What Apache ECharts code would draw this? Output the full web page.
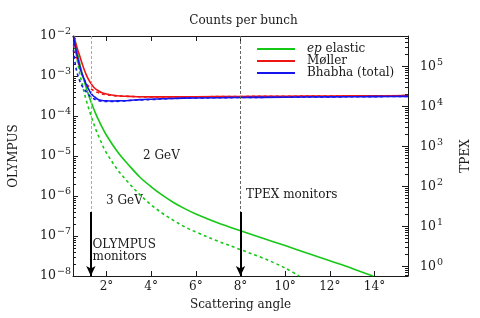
<!DOCTYPE html>
<html>
<head>
<meta charset="utf-8">
<script src="https://cdn.jsdelivr.net/npm/echarts@6/dist/echarts.min.js"></script>
<style>
  html, body { margin: 0; padding: 0; background: #fff; }
  #chart { width: 480px; height: 318px; }
</style>
</head>
<body>
<div id="chart"></div>
<script>
// scattering angle (deg) grid shared by the Moller / Bhabha curves
const angles = [0.52, 0.6, 0.7, 0.8, 0.9, 1.0, 1.1, 1.2, 1.3, 1.4, 1.5, 1.6, 1.8, 2.0, 2.3, 2.6, 3.0, 3.5, 4.0, 5.0, 6.0, 8.0, 10.0, 12.0, 14.0, 15.5]
const moller2 = [1.0e-2, 7.2e-3, 4.7e-3, 3.2e-3, 2.1e-3, 1.45e-3, 1.05e-3, 8.1e-4, 6.6e-4, 5.5e-4, 4.8e-4, 4.4e-4, 3.8e-4, 3.55e-4, 3.3e-4, 3.16e-4, 3.1e-4, 3.02e-4, 3.0e-4, 3.0e-4, 3.02e-4, 3.08e-4, 3.12e-4, 3.16e-4, 3.2e-4, 3.23e-4]
const moller3 = [6.0e-3, 4.0e-3, 2.5e-3, 1.6e-3, 1.1e-3, 8.3e-4, 6.6e-4, 5.5e-4, 4.8e-4, 4.4e-4, 4.1e-4, 3.9e-4, 3.55e-4, 3.4e-4, 3.24e-4, 3.16e-4, 3.1e-4, 3.02e-4, 3.0e-4, 3.0e-4, 3.02e-4, 3.08e-4, 3.12e-4, 3.16e-4, 3.2e-4, 3.23e-4]
const bhabha2 = [1.0e-2, 5.6e-3, 3.0e-3, 1.78e-3, 1.15e-3, 8.3e-4, 6.0e-4, 4.7e-4, 3.7e-4, 3.2e-4, 2.9e-4, 2.63e-4, 2.45e-4, 2.4e-4, 2.37e-4, 2.4e-4, 2.45e-4, 2.57e-4, 2.63e-4, 2.75e-4, 2.82e-4, 2.9e-4, 2.95e-4, 3.0e-4, 3.05e-4, 3.1e-4]
const bhabha3 = [4.5e-3, 2.0e-3, 1.12e-3, 7.6e-4, 5.75e-4, 4.7e-4, 4.0e-4, 3.4e-4, 3.0e-4, 2.75e-4, 2.57e-4, 2.45e-4, 2.34e-4, 2.32e-4, 2.32e-4, 2.34e-4, 2.43e-4, 2.52e-4, 2.57e-4, 2.75e-4, 2.82e-4, 2.9e-4, 2.95e-4, 3.0e-4, 3.05e-4, 3.1e-4]

// ep elastic, 2 GeV and 3 GeV
const epAngles2 = [0.56, 0.6, 0.7, 0.8, 0.9, 1.0, 1.15, 1.31, 1.5, 1.67, 2.0, 2.5, 3.0, 3.5, 4.0, 4.5, 5.0, 5.5, 6.0, 7.0, 8.0, 9.0, 10.0, 11.0, 12.0, 13.0, 13.93]
const ep2 = [1.0e-2, 7.5e-3, 3.7e-3, 2.05e-3, 1.2e-3, 7.6e-4, 4.0e-4, 2.24e-4, 1.2e-4, 7.4e-5, 3.3e-5, 1.26e-5, 5.9e-6, 2.95e-6, 1.7e-6, 1.05e-6, 6.9e-7, 4.84e-7, 3.55e-7, 2.11e-7, 1.35e-7, 8.8e-8, 5.75e-8, 3.7e-8, 2.4e-8, 1.55e-8, 1.0e-8]
const epAngles3 = [0.52, 0.6, 0.7, 0.8, 0.9, 1.0, 1.1, 1.3, 1.53, 1.75, 1.96, 2.5, 3.0, 3.5, 4.0, 4.5, 5.0, 5.5, 6.0, 7.0, 8.0, 9.0, 9.5, 10.0, 10.63]
const ep3 = [1.0e-2, 5.0e-3, 2.3e-3, 1.17e-3, 6.6e-4, 3.9e-4, 2.4e-4, 1.05e-4, 4.5e-5, 2.3e-5, 1.3e-5, 4.5e-6, 2.1e-6, 1.07e-6, 6.0e-7, 3.7e-7, 2.45e-7, 1.7e-7, 1.26e-7, 7.4e-8, 4.57e-8, 2.82e-8, 2.14e-8, 1.58e-8, 1.0e-8]

const xTicks = [2, 4, 6, 8, 10, 12, 14]
const olympusTicks = [1e-8, 1e-7, 1e-6, 1e-5, 1e-4, 1e-3, 1e-2]
const tpexTicks = [1, 10, 100, 1e3, 1e4, 1e5]
const monitorAngles = [1.3, 8]

const serif = 'DejaVu Serif'
const ink = '#1a1a1a'

// minor log ticks 2..9 in each decade
const minorTicks = (decades, lo, hi) => {
  const out = []
  decades.forEach(d => {
    for (let k = 2; k <= 9; k++) {
      const v = k * d
      if (v > lo && v < hi) out.push(v)
    }
  })
  return out
}

const powLabel = v => {
  const e = Math.round(Math.log10(v))
  return '{b|10}{s|' + (e < 0 ? '\u2212' + (-e) : e) + '}'
}
const powRich = {
  b: { fontFamily: serif, fontSize: 12.5, color: ink },
  s: { fontFamily: serif, fontSize: 9.5, color: ink, padding: [0, 0, 8, 1] }
}

const curve = (name, xs, ys, color, dashed) => ({
  name,
  type: 'line',
  data: xs.map((x, i) => [x, ys[i]]),
  symbol: 'none',
  smooth: 0.35,
  clip: true,
  silent: true,
  lineStyle: { color, width: 1.6, type: dashed ? [3, 3] : 'solid' },
  itemStyle: { color }
})

const green = '#16c816'
const red = '#ee1515'
const blue = '#1515ee'

const arrowTop = 4e-7
const monitorLines = []
monitorAngles.forEach((a, i) => {
  const dash = { color: i === 0 ? '#aaa' : '#666', width: 1, type: [3, 2] }
  monitorLines.push([
    { coord: [a, 1e-2], lineStyle: dash },
    { coord: [a, arrowTop], lineStyle: dash }
  ])
  const solid = { color: '#000', width: 2, type: 'solid' }
  monitorLines.push([
    { coord: [a, arrowTop], lineStyle: solid, symbol: 'none' },
    { coord: [a, 1e-8], lineStyle: solid, symbol: 'arrow', symbolSize: [7, 10] }
  ])
})

const ep2Series = curve('ep elastic', epAngles2, ep2, green, false)
ep2Series.markLine = {
  silent: true,
  animation: false,
  symbol: 'none',
  label: { show: false },
  data: monitorLines
}

const minorAxis = (position, min, max, ticks) => ({
  type: 'log',
  position,
  min,
  max,
  axisLine: { show: false },
  axisLabel: { show: false },
  splitLine: { show: false },
  axisTick: { inside: true, length: 3, customValues: ticks, lineStyle: { color: ink } }
})

const textEl = (text, x, y) => ({
  type: 'text',
  x,
  y,
  silent: true,
  style: { text, font: '12px "' + serif + '"', fill: ink, align: 'left', verticalAlign: 'middle' }
})

const chart = echarts.init(document.getElementById('chart'))

chart.setOption({
  animation: false,
  backgroundColor: '#fff',
  textStyle: { fontFamily: serif },
  title: {
    text: 'Counts per bunch',
    left: 238.5,
    textAlign: 'center',
    top: 10,
    textStyle: { fontFamily: serif, fontSize: 12, fontWeight: 'normal', color: ink }
  },
  grid: { left: 67, right: 70, top: 36, bottom: 42, containLabel: false },
  legend: {
    data: ['ep elastic', 'Møller', 'Bhabha (total)'],
    orient: 'vertical',
    left: 253,
    top: 37,
    padding: [6, 4, 3, 4],
    itemGap: 0,
    itemWidth: 38,
    itemHeight: 2,
    icon: 'rect',
    backgroundColor: '#fff',
    selectedMode: false,
    formatter: n => n === 'ep elastic' ? '{i|ep} elastic' : n,
    textStyle: {
      fontFamily: serif,
      fontSize: 12,
      lineHeight: 12,
      color: ink,
      padding: [0, 0, 0, 7],
      rich: { i: { fontStyle: 'italic', fontFamily: serif, fontSize: 12, lineHeight: 12, color: ink } }
    }
  },
  xAxis: [
    {
      type: 'value',
      position: 'bottom',
      min: 0.5,
      max: 15.5,
      name: 'Scattering angle',
      nameLocation: 'middle',
      nameGap: 23,
      nameTextStyle: { fontFamily: serif, fontSize: 12, color: ink },
      axisLine: { lineStyle: { color: ink, width: 1 } },
      axisTick: { inside: true, length: 5, customValues: xTicks, lineStyle: { color: ink } },
      axisLabel: { customValues: xTicks, formatter: v => v + '°', fontFamily: serif, fontSize: 12, color: ink, margin: 5 },
      splitLine: { show: false }
    },
    {
      type: 'value',
      position: 'top',
      min: 0.5,
      max: 15.5,
      axisLine: { lineStyle: { color: ink, width: 1 } },
      axisTick: { inside: true, length: 5, customValues: xTicks, lineStyle: { color: ink } },
      axisLabel: { show: false },
      splitLine: { show: false }
    }
  ],
  yAxis: [
    {
      type: 'log',
      position: 'left',
      min: 1e-8,
      max: 1e-2,
      name: 'OLYMPUS',
      nameLocation: 'middle',
      nameRotate: 90,
      nameGap: 53,
      nameTextStyle: { fontFamily: serif, fontSize: 12, color: ink },
      axisLine: { lineStyle: { color: ink, width: 1 } },
      axisTick: { inside: true, length: 5, customValues: olympusTicks, lineStyle: { color: ink } },
      axisLabel: { customValues: olympusTicks, formatter: powLabel, rich: powRich, margin: 2 },
      splitLine: { show: false }
    },
    minorAxis('left', 1e-8, 1e-2, minorTicks(olympusTicks, 1e-8, 1e-2)),
    {
      type: 'log',
      position: 'right',
      min: 0.58,
      max: 5.8e5,
      name: 'TPEX',
      nameLocation: 'middle',
      nameRotate: 90,
      nameGap: 52,
      nameTextStyle: { fontFamily: serif, fontSize: 12, color: ink },
      axisLine: { lineStyle: { color: ink, width: 1 } },
      axisTick: { inside: true, length: 6, customValues: tpexTicks, lineStyle: { color: ink } },
      axisLabel: { customValues: tpexTicks, formatter: powLabel, rich: powRich, margin: 12 },
      splitLine: { show: false }
    },
    minorAxis('right', 0.58, 5.8e5, minorTicks([0.1].concat(tpexTicks), 0.58, 5.8e5))
  ],
  series: [
    curve('ep elastic', epAngles3, ep3, green, true),
    ep2Series,
    curve('Møller', angles, moller3, red, true),
    curve('Møller', angles, moller2, red, false),
    curve('Bhabha (total)', angles, bhabha3, blue, true),
    curve('Bhabha (total)', angles, bhabha2, blue, false)
  ],
  graphic: [
    textEl('2 GeV', 143, 156),
    textEl('3 GeV', 106, 201),
    textEl('OLYMPUS', 92.5, 245),
    textEl('monitors', 92.5, 257),
    textEl('TPEX monitors', 246, 195)
  ]
})
</script>
</body>
</html>
